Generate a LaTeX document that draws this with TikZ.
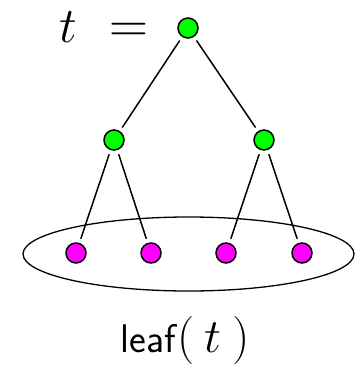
\RequirePackage{fix-cm}
\documentclass[tikz,border=0pt]{standalone}
\usetikzlibrary{shapes.geometric}
\definecolor{vgreen}{RGB}{0,255,0}
\definecolor{vmag}{RGB}{255,0,255}
\begin{document}
\begin{tikzpicture}[x=1pt,y=-1pt,
  vert/.style={circle,draw,line width=1.5pt,minimum size=20pt,inner sep=0pt,outer sep=5pt},
  inner/.style={vert,fill=vgreen},
  leafv/.style={vert,fill=vmag},
  edge/.style={line width=1.5pt}]
\useasboundingbox (0,0) rectangle (360,372);
\node[inner] (r) at (188,28) {};
\node[inner] (a) at (114,140) {};
\node[inner] (b) at (264,140) {};
\node[leafv] (l1) at (76,253) {};
\node[leafv] (l2) at (151,253) {};
\node[leafv] (l3) at (226,253) {};
\node[leafv] (l4) at (302,253) {};
\draw[edge] (r) -- (a);
\draw[edge] (r) -- (b);
\draw[edge] (a) -- (l1);
\draw[edge] (a) -- (l2);
\draw[edge] (b) -- (l3);
\draw[edge] (b) -- (l4);
\node[ellipse,draw,line width=1.3pt,minimum width=331pt,minimum height=74pt,inner sep=0pt] (set) at (188.5,254) {};
\node[anchor=base west,inner sep=0pt,font=\fontsize{50}{56}\selectfont] (tt) at (59,42) {$t$};
\node[anchor=base,inner sep=0pt,font=\fontsize{54}{60}\selectfont] (eq) at (128.5,42) {$=$};
\node[anchor=base,inner sep=0pt] (lbl) at (185,352) {\fontsize{40}{46}\selectfont\textsf{leaf}\fontsize{48}{54}\selectfont$(\mkern4mu t\mkern4mu)$};
\end{tikzpicture}
\end{document}
